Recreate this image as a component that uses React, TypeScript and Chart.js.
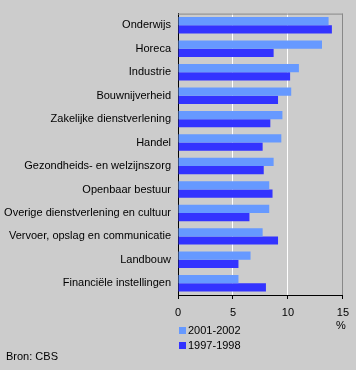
import React, { useEffect, useRef } from "react";
import { Chart, registerables } from "chart.js";

Chart.register(...registerables);

const categories = [
  "Onderwijs",
  "Horeca",
  "Industrie",
  "Bouwnijverheid",
  "Zakelijke dienstverlening",
  "Handel",
  "Gezondheids- en welzijnszorg",
  "Openbaar bestuur",
  "Overige dienstverlening en cultuur",
  "Vervoer, opslag en communicatie",
  "Landbouw",
  "Financiële instellingen",
];
const series2001 = [13.7, 13.1, 11.0, 10.3, 9.5, 9.4, 8.7, 8.3, 8.3, 7.7, 6.6, 5.5];
const series1997 = [14.0, 8.7, 10.2, 9.1, 8.4, 7.7, 7.8, 8.6, 6.5, 9.1, 5.5, 8.0];
const seriesNames = ["2001-2002", "1997-1998"];
const xTicks = [0, 5, 10, 15];
const unitLabel = "%";
const sourceLabel = "Bron: CBS";

const FONT = "Arial, 'Liberation Sans', sans-serif";
const LIGHT = "#6699FF";
const DARK = "#3333FF";

export default function App() {
  const ref = useRef<HTMLCanvasElement>(null);
  useEffect(() => {
    document.body.style.margin = "0";
    document.body.style.background = "#CCCCCC";
    const canvas = ref.current!;
    const extras = {
      id: "extras",
      beforeDatasetsDraw(chart: any) {
        const { ctx, chartArea } = chart;
        ctx.save();
        ctx.strokeStyle = "#888888";
        ctx.lineWidth = 1;
        ctx.beginPath();
        ctx.moveTo(chartArea.left, chartArea.top + 0.5);
        ctx.lineTo(chartArea.right, chartArea.top + 0.5);
        ctx.stroke();
        ctx.restore();
      },
      afterDraw(chart: any) {
        const { ctx } = chart;
        ctx.save();
        ctx.font = `11px ${FONT}`;
        ctx.fillStyle = "#000";
        ctx.textBaseline = "middle";
        ctx.textAlign = "center";
        ctx.fillText(unitLabel, 341, 326);
        ctx.textAlign = "left";
        ctx.fillText(sourceLabel, 6, 357);
        const colors = [LIGHT, DARK];
        const ys = [330.5, 345.5];
        seriesNames.forEach((n, i) => {
          ctx.fillStyle = colors[i];
          ctx.fillRect(179, ys[i] - 3.5, 7, 7);
          ctx.fillStyle = "#000";
          ctx.fillText(n, 188, ys[i]);
        });
        ctx.restore();
      },
    };
    const chart = new Chart(canvas, {
      type: "bar",
      data: {
        labels: categories,
        datasets: [
          { label: seriesNames[0], data: series2001, backgroundColor: LIGHT, categoryPercentage: 0.7, barPercentage: 1 },
          { label: seriesNames[1], data: series1997, backgroundColor: DARK, categoryPercentage: 0.7, barPercentage: 1 },
        ],
      },
      options: {
        indexAxis: "y",
        animation: false,
        responsive: false,
        maintainAspectRatio: false,
        layout: { padding: { top: 9, right: 13, left: 0, bottom: 0 } },
        plugins: { legend: { display: false }, tooltip: { enabled: false } },
        scales: {
          x: {
            min: 0,
            max: 15,
            afterBuildTicks(axis: any) {
              axis.ticks = xTicks.map((v) => ({ value: v }));
            },
            afterFit(axis: any) {
              axis.height = 75;
            },
            ticks: { color: "#000", font: { family: FONT, size: 11 }, padding: 7 },
            grid: {
              color: (c: any) => (c.tick && c.tick.value === 15 ? "#888888" : "#FFFFFF"),
              tickColor: "#000",
              tickLength: 4,
              drawTicks: true,
            },
            border: { color: "#000", width: 1 },
          },
          y: {
            afterFit(axis: any) {
              axis.width = 178;
            },
            ticks: { color: "#000", font: { family: FONT, size: 11 }, padding: 7 },
            grid: { display: false, drawTicks: false },
            border: { color: "#000", width: 1 },
          },
        },
      },
      plugins: [extras],
    });
    return () => chart.destroy();
  }, []);
  return (
    <div style={{ position: "fixed", left: 0, top: 0, width: 356, height: 370, background: "#CCCCCC" }}>
      <canvas ref={ref} width={356} height={370} style={{ width: 356, height: 370, display: "block" }} />
    </div>
  );
}
